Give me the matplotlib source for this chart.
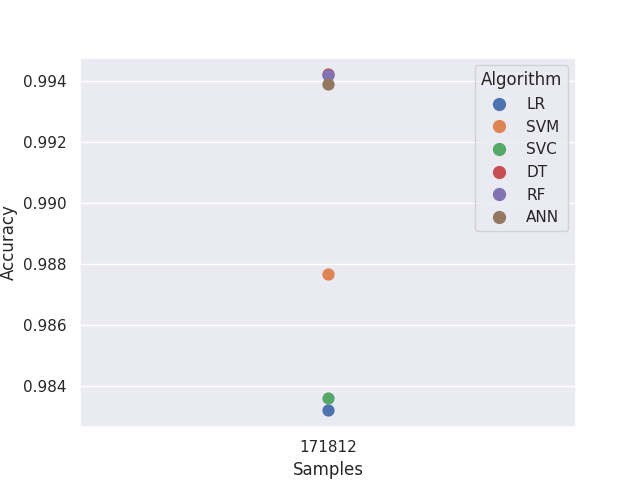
import matplotlib
matplotlib.use("Agg")
import matplotlib.pyplot as plt
from matplotlib.lines import Line2D
import seaborn as sns
import pandas as pd

sns.set_theme()

algorithms = ["LR", "SVM", "SVC", "DT", "RF", "ANN"]
samples = ["171812"] * 6
accuracy = [0.98321, 0.98767, 0.98361, 0.99423, 0.99420, 0.99390]

df = pd.DataFrame({"Samples": samples, "Accuracy": accuracy, "Algorithm": algorithms})

fig, ax = plt.subplots(figsize=(6.4, 4.8), dpi=100)
sns.pointplot(data=df, x="Samples", y="Accuracy", hue="Algorithm", ax=ax)
palette = sns.color_palette()
handles = [Line2D([], [], linestyle="none", marker="o", markersize=8.5,
                  color=palette[i]) for i in range(len(algorithms))]
ax.legend(handles, algorithms, title="Algorithm", loc="upper right")
fig.savefig("out.png")
